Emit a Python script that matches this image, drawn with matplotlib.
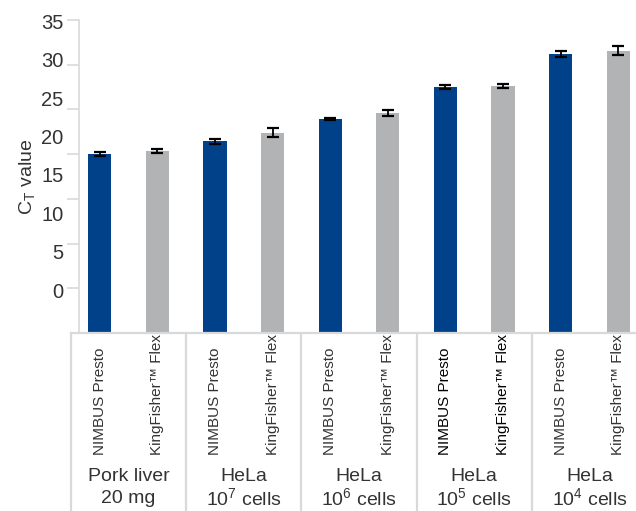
import matplotlib
matplotlib.use("Agg")
import matplotlib.pyplot as plt
import matplotlib.transforms as mtransforms
import numpy as np

plt.rcParams['font.family'] = ['Liberation Sans', 'DejaVu Sans']
plt.rcParams['mathtext.fontset'] = 'custom'
plt.rcParams['mathtext.rm'] = 'Liberation Sans'
plt.rcParams['mathtext.it'] = 'Liberation Sans'

# ---- data ----
methods = ["NIMBUS Presto", "KingFisher\u2122 Flex"]
groups_top = ["Pork liver", "HeLa", "HeLa", "HeLa", "HeLa"]
groups_bottom = ["20 mg", "10$^{7}$ cells", "10$^{6}$ cells", "10$^{5}$ cells", "10$^{4}$ cells"]
nimbus_ct = [17.7, 19.4, 22.3, 26.5, 30.8]
nimbus_err = [0.25, 0.33, 0.1, 0.25, 0.37]
kingfisher_ct = [18.1, 20.5, 23.1, 26.6, 31.2]
kingfisher_err = [0.25, 0.6, 0.4, 0.3, 0.6]
yticks = [0, 5, 10, 15, 20, 25, 30, 35]

blue = "#00418a"
gray = "#b2b3b5"
line_c = "#d9d9d9"
text_c = "#333333"

W, H = 636, 511
fig = plt.figure(figsize=(W / 100, H / 100), dpi=100)
ax_left_px, ax_right_px = 71, 647
ax_top_px, ax_bot_px = 20, 333
ax = fig.add_axes([ax_left_px / W, (H - ax_bot_px) / H,
                   (ax_right_px - ax_left_px) / W, (ax_bot_px - ax_top_px) / H])

ymin, ymax = -5.6, 35.2
n = len(nimbus_ct)
x_n = np.arange(n) * 2
x_k = x_n + 1
bw = 0.4
# bars rise from the bottom of the axis, as in the reference
ax.bar(x_n, np.array(nimbus_ct) - ymin, bottom=ymin, width=bw, color=blue, zorder=2)
ax.bar(x_k, np.array(kingfisher_ct) - ymin, bottom=ymin, width=bw, color=gray, zorder=2)
ax.errorbar(x_n, nimbus_ct, yerr=nimbus_err, fmt='none', ecolor='black',
            elinewidth=1.3, capsize=4, capthick=1.6, zorder=3)
ax.errorbar(x_k, kingfisher_ct, yerr=kingfisher_err, fmt='none', ecolor='black',
            elinewidth=1.3, capsize=4, capthick=1.6, zorder=3)

ax.set_ylim(ymin, ymax)
ax.set_xlim(-0.5, 2 * n - 0.5)

for s in ['top', 'right']:
    ax.spines[s].set_visible(False)
ax.spines['left'].set_color(line_c)
ax.spines['bottom'].set_color(line_c)
ax.spines['left'].set_linewidth(1.2)
ax.spines['bottom'].set_linewidth(1.6)
ax.spines['bottom'].set_zorder(4)
# y axis line sits slightly right of the category frame
ax.spines['left'].set_position(('data', -0.5 + 8 / 57.6))

ax.set_yticks(yticks)
ax.set_yticklabels([str(v) for v in yticks], fontsize=14.5, color=text_c)
ax.tick_params(axis='y', which='major', length=0, pad=11)
minor = [ymin + k * (ymax - ymin) / 7 for k in range(1, 8)]
ax.set_yticks(minor, minor=True)
ax.tick_params(axis='y', which='minor', length=9, width=1.2, color=line_c)
ax.set_xticks([])

ax.set_ylabel("C$_{\\mathrm{T}}$ value", fontsize=14, color=text_c, labelpad=3)

# category frame below the axis
trans = mtransforms.blended_transform_factory(ax.transData, fig.transFigure)
for b in np.arange(-0.5, 2 * n, 2):
    ax.plot([b, b], [0, (H - ax_bot_px) / H], transform=trans, color=line_c,
            lw=1.6, clip_on=False, zorder=1)

for i in range(n):
    c = 'black' if i == 3 else text_c
    for j, m in enumerate(methods):
        ax.text(2 * i + j, (H - 455) / H, m, rotation=90, ha='center', va='bottom',
                fontsize=11, color=c, transform=trans)
    ax.text(2 * i + 0.5, (H - 476) / H, groups_top[i], ha='center', va='center',
            fontsize=14, color=text_c, transform=trans)
    ax.text(2 * i + 0.5, (H - 498) / H, groups_bottom[i], ha='center', va='center',
            fontsize=14, color=text_c, transform=trans)

fig.savefig("out.png", dpi=100)
